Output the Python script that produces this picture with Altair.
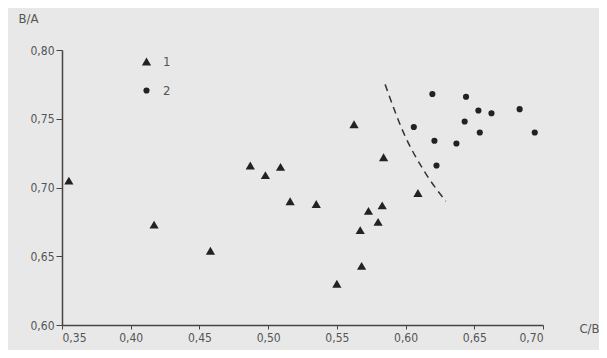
import altair as alt
import pandas as pd

# Series 1 (triangles)
tri_x = [0.355, 0.417, 0.458, 0.487, 0.498, 0.509, 0.516, 0.535, 0.5625, 0.584,
         0.583, 0.573, 0.580, 0.567, 0.568, 0.550, 0.609]
tri_y = [0.705, 0.673, 0.654, 0.716, 0.709, 0.715, 0.690, 0.688, 0.746, 0.722,
         0.687, 0.683, 0.675, 0.669, 0.643, 0.630, 0.696]
# Series 2 (dots)
dot_x = [0.6195, 0.644, 0.653, 0.6625, 0.683, 0.606, 0.643, 0.654, 0.694, 0.621, 0.637, 0.6225]
dot_y = [0.768, 0.766, 0.756, 0.754, 0.757, 0.744, 0.748, 0.740, 0.740, 0.734, 0.732, 0.716]
# Dashed boundary curve
curve_x = [0.5851, 0.5989, 0.6135, 0.6293]
curve_y = [0.775, 0.739, 0.712, 0.690]

x_ticks = [0.35, 0.40, 0.45, 0.50, 0.55, 0.60, 0.65, 0.70]
y_ticks = [0.60, 0.65, 0.70, 0.75, 0.80]

pts = pd.DataFrame({
    "x": tri_x + dot_x,
    "y": tri_y + dot_y,
    "s": ["1"] * len(tri_x) + ["2"] * len(dot_x),
})
curve = pd.DataFrame({"x": curve_x, "y": curve_y})

FONT = "DejaVu Sans Condensed"
LBL = "replace(format(datum.value, '.2f'), '.', ',')"

xs = alt.Scale(domain=[0.35, 0.70], nice=False, zero=False)
ys = alt.Scale(domain=[0.60, 0.80], nice=False, zero=False)

xaxis = alt.Axis(values=x_ticks, labelExpr=LBL, grid=False, title="C/B",
                 titleX=527, titleY=3, titleAlign="center", titleBaseline="middle",
                 titleFont=FONT, titleFontSize=13, titleFontWeight="normal", titleColor="#555",
                 labelFont=FONT, labelFontSize=12, labelColor="#555", labelPadding=3,
                 tickSize=4, tickColor="#444", domainColor="#444", domainWidth=1.5)
yaxis = alt.Axis(values=y_ticks, labelExpr=LBL, grid=False, title="B/A",
                 titleAngle=0, titleX=-34, titleY=-32, titleAlign="center", titleBaseline="middle",
                 titleFont=FONT, titleFontSize=13, titleFontWeight="normal", titleColor="#555",
                 labelFont=FONT, labelFontSize=12, labelColor="#555", labelPadding=2,
                 tickSize=6, tickColor="#444", domainColor="#444", domainWidth=1.5)

leg = alt.Legend(title=None, orient="none", legendX=78, legendY=5,
                 labelFont=FONT, labelFontSize=13, labelColor="#555",
                 symbolFillColor="#222", symbolStrokeColor="#222",
                 rowPadding=15, padding=0, labelOffset=10)

points = alt.Chart(pts).mark_point(filled=True, opacity=1).encode(
    x=alt.X("x:Q", scale=xs, axis=xaxis),
    y=alt.Y("y:Q", scale=ys, axis=yaxis),
    shape=alt.Shape("s:N", scale=alt.Scale(domain=["1", "2"], range=["triangle-up", "circle"]),
                    legend=leg),
    size=alt.Size("s:N", scale=alt.Scale(domain=["1", "2"], range=[85, 38]), legend=leg),
    color=alt.value("#222"),
)

line = alt.Chart(curve).mark_line(color="#333", strokeDash=[7, 5], strokeWidth=1.5,
                                  interpolate="monotone").encode(
    x=alt.X("x:Q", scale=xs),
    y=alt.Y("y:Q", scale=ys),
)

chart = alt.layer(line, points).properties(
    width=481, height=275,
    autosize=alt.AutoSizeParams(type="none"),
    padding={"left": 54, "top": 42, "right": 56, "bottom": 25},
    background="#e8e8e8",
).configure_view(stroke=None)

chart.save("out.html", embed_options={"renderer": "svg", "actions": False})
